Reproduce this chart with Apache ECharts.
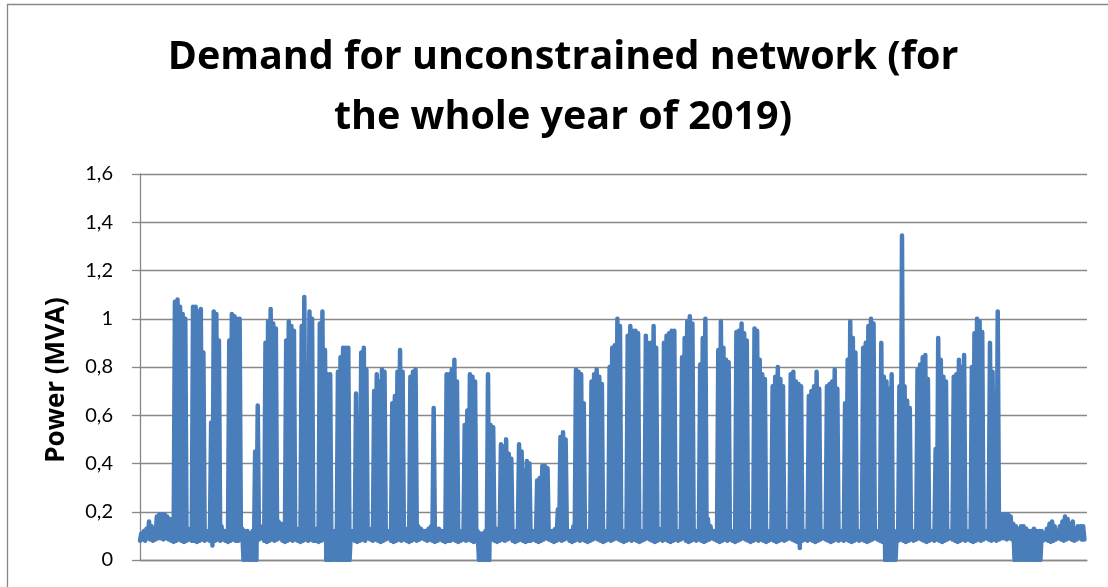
<!DOCTYPE html>
<html>
<head>
<meta charset="utf-8">
<title>Demand for unconstrained network 2019</title>
<script src="https://cdn.jsdelivr.net/npm/echarts@6/dist/echarts.min.js"></script>
<style>
  html, body { margin: 0; padding: 0; background: #ffffff; }
  #chart { width: 1108px; height: 587px; }
</style>
</head>
<body>
<div id="chart"></div>
<script>
// Chart texts
const titleText = 'Demand for unconstrained network (for\nthe whole year of 2019)';
const yAxisTitle = 'Power (MVA)';
const yTickLabels = ['0', '0,2', '0,4', '0,6', '0,8', '1', '1,2', '1,4', '1,6'];

// Daily maximum demand in MVA, 2019, one array per month
const peakJan = [0.11,0.12,0.13,0.16,0.14,0.12,0.18,0.19,0.19,0.19,0.18,0.17,0.13, 1.07,1.08,1.05,1.02,1.0, 0.13,0.12, 1.05,1.05,1.03,1.04,0.86, 0.12,0.12, 0.57,1.03,1.02,0.91];
const peakFeb = [0.14,0.12,0.12, 0.91,1.02,1.01,1.0,1.0, 0.13, 0.12,0.12,0.11,0.12,0.45,0.64, 0.13,0.14, 0.9,0.99,1.04,0.98,0.96, 0.16,0.15, 0.14,0.91,0.99,0.97];
const peakMar = [0.95, 0.13,0.12, 0.97,1.09,0.77,1.03,1.0, 0.13,0.13, 0.98,1.03,0.87,0.77,0.77, 0.12,0.12, 0.78,0.84,0.88,0.88,0.88, 0.12,0.12, 0.69,0.13,0.86,0.88,0.79, 0.12,0.13];
const peakApr = [0.7,0.77,0.74,0.79,0.78, 0.12,0.12, 0.65,0.68,0.78,0.87,0.78, 0.13,0.12, 0.76,0.78,0.79,0.14,0.13, 0.12,0.12, 0.13,0.14,0.63,0.13,0.13, 0.12,0.12, 0.77,0.77];
const peakMay = [0.79,0.83,0.74, 0.12,0.12, 0.56,0.62,0.77,0.76,0.74, 0.12, 0.11,0.11,0.12,0.77,0.56, 0.55,0.13,0.13, 0.48,0.47,0.5,0.44,0.42, 0.12,0.12, 0.48,0.45,0.37,0.41,0.4];
const peakJun = [0.12,0.12, 0.33,0.34,0.39,0.39,0.38, 0.12,0.12, 0.13,0.21,0.51,0.53,0.5, 0.12,0.12, 0.14,0.79,0.78,0.77,0.65, 0.12,0.12, 0.74,0.77,0.79,0.76,0.73, 0.12,0.12];
const peakJul = [0.8,0.88,0.89,1.0,0.97, 0.12,0.12, 0.93,0.97,0.95,0.95,0.94, 0.12,0.12, 0.93,0.9,0.9,0.97,0.88, 0.13,0.12, 0.9,0.93,0.94,0.95,0.95, 0.12,0.12, 0.84,0.92,0.99];
const peakAug = [1.01,0.98, 0.12,0.12, 0.81,0.92,1.0,0.17,0.14, 0.12,0.12, 0.87,0.99,0.88,0.83,0.82, 0.12,0.12, 0.945,0.95,0.98,0.94,0.91, 0.12,0.12, 0.96,0.95,0.83,0.77,0.75, 0.12];
const peakSep = [0.12, 0.72,0.76,0.8,0.75,0.72, 0.12,0.12, 0.77,0.78,0.74,0.73,0.72, 0.12,0.12, 0.68,0.7,0.72,0.78,0.71, 0.12,0.12, 0.72,0.73,0.74,0.79,0.71, 0.12,0.12, 0.65];
const peakOct = [0.83,0.99,0.92,0.86, 0.12,0.12, 0.88,0.9,0.97,1.0,0.98, 0.12,0.12, 0.9,0.76,0.74,0.71,0.77, 0.11,0.12, 0.72,1.345,0.72,0.66,0.63, 0.12,0.12, 0.79,0.81,0.84,0.85];
const peakNov = [0.75, 0.12,0.12, 0.46,0.92,0.83,0.76,0.74, 0.12,0.12, 0.76,0.77,0.83,0.8,0.85, 0.12,0.12, 0.8,0.94,1.0,0.99,0.945, 0.12,0.12, 0.9,0.78,0.13,1.03,0.17, 0.19];
const peakDec = [0.19,0.19,0.18,0.15,0.14,0.13,0.14,0.14,0.13,0.12,0.12,0.13,0.12,0.12,0.12,0.11,0.13,0.15,0.16,0.14,0.12,0.14,0.16,0.18,0.17,0.15,0.16,0.13,0.14,0.14,0.14];

// Daily minimum demand in MVA; 0 marks days with supply interruptions
const lowJan = [0.08,0.085,0.08,0.09,0.085,0.08,0.085,0.09,0.09,0.085,0.09,0.085,0.08, 0.075,0.08,0.085,0.08,0.075, 0.08,0.085, 0.08,0.08,0.075,0.08,0.085, 0.08,0.085, 0.08,0.06,0.08,0.085];
const lowFeb = [0.08,0.085,0.08, 0.075,0.08,0.085,0.08,0.08, 0.085, 0,0,0,0,0,0, 0.085,0.09, 0.08,0.075,0.08,0.085,0.08, 0.085,0.09, 0.08,0.075,0.08,0.085];
const lowMar = [0.08,0.085,0.08, 0.075,0.08,0.085,0.08,0.085, 0.08,0.08, 0.075,0.08,0.085, 0,0,0,0,0,0,0,0,0,0, 0.085,0.08,0.075,0.08,0.085,0.08,0.09,0.085];
const lowApr = [0.08,0.085,0.08,0.075,0.08, 0.085,0.09, 0.08,0.075,0.08,0.085,0.08, 0.085,0.08, 0.075,0.08,0.085,0.08,0.085, 0.09,0.085, 0.08,0.085,0.08,0.075,0.08, 0.085,0.08, 0.075,0.08];
const lowMay = [0.08,0.085,0.08, 0.075,0.08, 0.085,0.08,0.085,0.08,0.075, 0.08, 0,0,0,0,0, 0.085,0.08,0.075, 0.08,0.085,0.08,0.085,0.09, 0.08,0.075, 0.08,0.085,0.08,0.075,0.08];
const lowJun = [0.08,0.085, 0.08,0.075,0.08,0.085,0.09, 0.085,0.08, 0.075,0.08,0.085,0.08,0.085, 0.09,0.08, 0.075,0.08,0.085,0.08,0.085, 0.08,0.075, 0.08,0.085,0.09,0.085,0.08, 0.075,0.08];
const lowJul = [0.085,0.08,0.085,0.09,0.085, 0.08,0.075, 0.08,0.085,0.08,0.085,0.08, 0.075,0.08, 0.085,0.09,0.085,0.08,0.075, 0.08,0.085, 0.08,0.085,0.08,0.075,0.08, 0.085,0.08, 0.085,0.09,0.08];
const lowAug = [0.075,0.08, 0.085,0.08, 0.085,0.08,0.075,0.08,0.085, 0.09,0.085, 0.08,0.075,0.08,0.085,0.08, 0.085,0.08, 0.075,0.08,0.085,0.09,0.085, 0.08,0.075, 0.08,0.085,0.08,0.085,0.08, 0.075];
const lowSep = [0.08, 0.085,0.08,0.075,0.08,0.085, 0.08,0.085, 0.09,0.085,0.08,0.075, 0.05, 0.08,0.085, 0.08,0.085,0.08,0.075,0.08, 0.085,0.09, 0.085,0.08,0.075,0.08,0.085, 0.08,0.085, 0.08];
const lowOct = [0.085,0.08,0.075,0.08, 0.085,0.08, 0.085,0.08,0.075,0.08,0.085, 0.09,0.085, 0.08,0.075, 0,0,0,0,0, 0.08,0.085, 0.08,0.075,0.08, 0.085,0.08, 0.085,0.09,0.085,0.08];
const lowNov = [0.075, 0.08,0.085, 0.08,0.085,0.08,0.075,0.08, 0.085,0.09, 0.085,0.08,0.075,0.08,0.085, 0.08,0.085, 0.08,0.075,0.08,0.085,0.08, 0.085,0.09, 0.085,0.08,0.085,0.08,0.085, 0.09];
const lowDec = [0.09,0.085,0.09,0.085, 0,0,0,0,0,0,0,0,0,0,0, 0.08,0.085,0.08,0.075,0.08,0.085,0.09,0.085,0.08,0.085,0.09,0.085,0.08,0.085,0.09,0.085];

const dailyPeak = [].concat(peakJan, peakFeb, peakMar, peakApr, peakMay, peakJun,
                            peakJul, peakAug, peakSep, peakOct, peakNov, peakDec);
const dailyLow = [].concat(lowJan, lowFeb, lowMar, lowApr, lowMay, lowJun,
                           lowJul, lowAug, lowSep, lowOct, lowNov, lowDec);

// Each day: night minimum at the start of the day, daytime maximum at midday
const demandPoints = [];
dailyPeak.forEach(function (peak, day) {
  demandPoints.push([day, dailyLow[day]]);
  demandPoints.push([day + 0.5, peak]);
});
demandPoints.push([dailyPeak.length, dailyLow[dailyLow.length - 1]]);

const gray = '#888888';
const chart = echarts.init(document.getElementById('chart'), null, { renderer: 'canvas' });

chart.setOption({
  animation: false,
  backgroundColor: '#ffffff',
  grid: { left: 140, right: 21, top: 174, bottom: 27, containLabel: false },
  xAxis: {
    type: 'value',
    min: 0,
    max: 366,
    axisLine: { show: true, lineStyle: { color: gray, width: 1.3 } },
    axisTick: { show: false },
    axisLabel: { show: false },
    splitLine: { show: false }
  },
  yAxis: {
    type: 'value',
    min: 0,
    max: 1.6,
    interval: 0.2,
    axisLine: { show: true, lineStyle: { color: gray, width: 1.3 } },
    axisTick: { show: true, inside: false, length: 8, lineStyle: { color: gray, width: 1.3 } },
    axisLabel: {
      margin: 27,
      fontFamily: 'Lato',
      fontSize: 20,
      color: '#000000',
      formatter: function (v) { return yTickLabels[Math.round(v / 0.2)]; }
    },
    splitLine: { show: true, lineStyle: { color: gray, width: 1.3 } }
  },
  series: [{
    type: 'line',
    data: demandPoints,
    symbol: 'none',
    showSymbol: false,
    sampling: null,
    clip: true,
    lineStyle: { color: '#4a7ebb', width: 4.5, cap: 'round', join: 'round' }
  }],
  graphic: [
    {
      type: 'rect',
      silent: true,
      shape: { x: 7.5, y: 4.5, width: 1400, height: 900 },
      style: { fill: 'none', stroke: gray, lineWidth: 1.3 }
    },
    {
      type: 'text',
      x: 563,
      y: 28,
      style: {
        text: titleText,
        font: 'bold 39.5px "Open Sans"',
        fill: '#000000',
        align: 'center',
        verticalAlign: 'top',
        lineHeight: 60
      }
    },
    {
      type: 'text',
      x: 57,
      y: 380,
      rotation: Math.PI / 2,
      style: {
        text: yAxisTitle,
        font: 'bold 26px "Open Sans"',
        fill: '#000000',
        align: 'center',
        verticalAlign: 'middle'
      }
    }
  ]
});
</script>
</body>
</html>
